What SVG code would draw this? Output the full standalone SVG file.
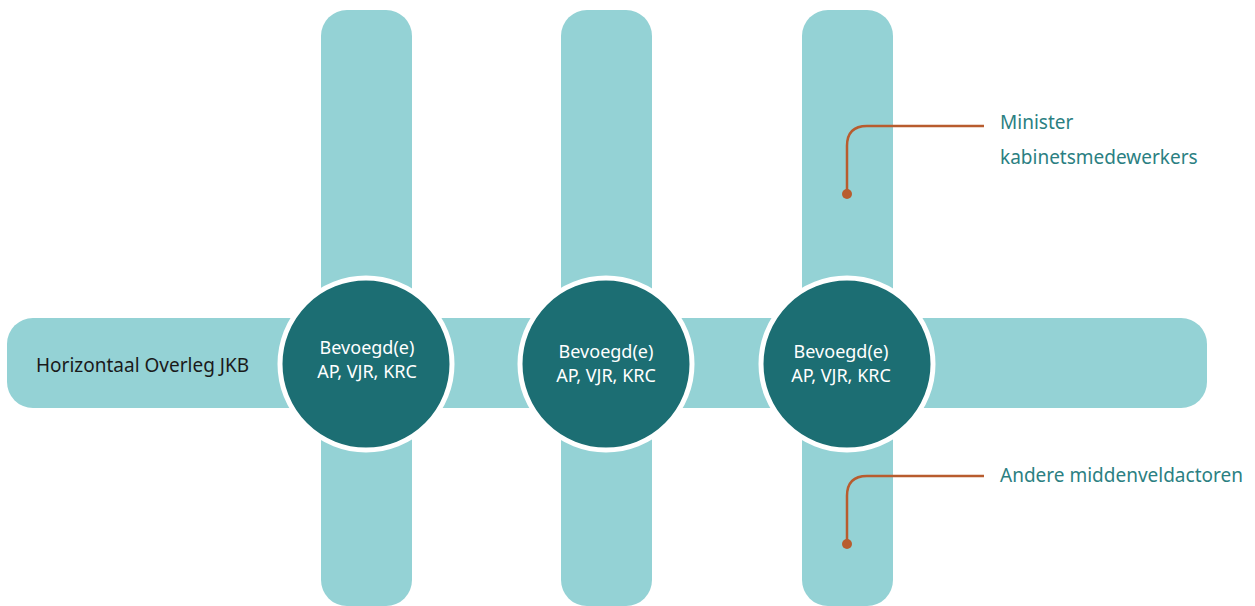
<svg xmlns="http://www.w3.org/2000/svg" width="1255" height="606" viewBox="0 0 1255 606">
<style>
.bar{fill:#94d2d5}
.hub{fill:#1c6e73;stroke:#fff;stroke-width:5}
.hubt{fill:#fff;font-family:"Noto Sans",sans-serif;font-size:18px;text-anchor:middle}
.lbl{fill:#2b7f82;font-family:"Noto Sans",sans-serif;font-size:19px}
.call{fill:none;stroke:#b85c2e;stroke-width:2.5}
.dot{fill:#b85c2e}
</style>
<g id="bars">
<rect id="hbar" class="bar" x="7" y="318" width="1200" height="90" rx="26"/>
<rect id="vbar1" class="bar" x="321" y="10" width="91" height="596" rx="26"/>
<rect id="vbar2" class="bar" x="561" y="10" width="91" height="596" rx="26"/>
<rect id="vbar3" class="bar" x="802" y="10" width="91" height="596" rx="26"/>
</g>
<g id="hlabel"><text x="36" y="372" style="fill:#1a1a1a;font-family:'Noto Sans',sans-serif;font-size:19px">Horizontaal Overleg JKB</text></g>
<g id="hub1"><circle class="hub" cx="366" cy="364" r="86"/><text class="hubt" x="367" y="354">Bevoegd(e)</text><text class="hubt" x="367" y="378">AP, VJR, KRC</text></g>
<g id="hub2"><circle class="hub" cx="606" cy="364" r="86"/><text class="hubt" x="606" y="358">Bevoegd(e)</text><text class="hubt" x="606" y="382">AP, VJR, KRC</text></g>
<g id="hub3"><circle class="hub" cx="847" cy="364" r="86"/><text class="hubt" x="841" y="358">Bevoegd(e)</text><text class="hubt" x="841" y="382">AP, VJR, KRC</text></g>
<g id="connectors">
<path class="call" d="M847,194 V146 Q847,126 867,126 H984"/>
<circle class="dot" cx="847" cy="194" r="5"/>
<path class="call" d="M847,544 V496 Q847,476 867,476 H984"/>
<circle class="dot" cx="847" cy="544" r="5"/>
</g>
<g id="label-minister"><text class="lbl" x="1000" y="129">Minister</text><text class="lbl" x="1000" y="164">kabinetsmedewerkers</text></g>
<g id="label-andere"><text class="lbl" x="1000" y="482">Andere middenveldactoren</text></g>
</svg>
